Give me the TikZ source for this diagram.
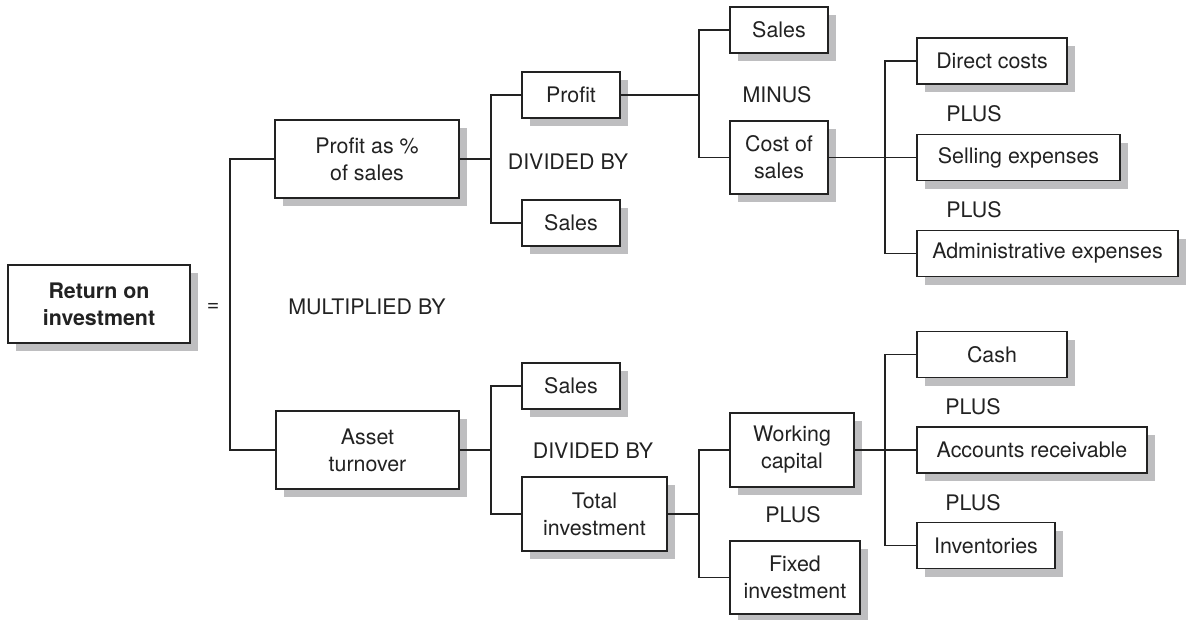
\documentclass[tikz,border=0pt]{standalone}
\usepackage{fontspec}
\setmainfont{TeX Gyre Heros}
\usetikzlibrary{shadows}
\definecolor{ink}{HTML}{222222}
\definecolor{shade}{HTML}{BEBEC0}
\tikzset{
  box/.style={draw=ink, line width=1.4pt, fill=white, text=ink, align=center,
    inner sep=0pt, minimum height=46pt,
    drop shadow={shadow xshift=8pt, shadow yshift=-8pt, fill=shade, opacity=1}},
  op/.style={text=ink, inner sep=0pt},
  link/.style={draw=ink, line width=1.2pt},
}
\begin{document}
\begin{tikzpicture}[x=1pt, y=-1pt, font=\fontsize{21.4}{27}\selectfont]
\useasboundingbox (0,0) rectangle (1186,619);

% bus lines (vertical connector columns)
\coordinate (b0) at (230,0);
\coordinate (b1) at (491,0);
\coordinate (b2) at (699,0);
\coordinate (b3) at (885,0);

% root
\node[box, minimum width=182pt, minimum height=78pt, font=\fontsize{21.4}{27}\selectfont\bfseries] (roi) at (99,304) {Return on\\investment};
\node[op] (eq) at (213,307) {=};
\node[op] (mult) at (367,307) {MULTIPLIED BY};

% upper branch
\node[box, minimum width=184pt, minimum height=78pt] (pct) at (367,159) {Profit as \%\\of sales};
\node[box, minimum width=98pt] (profit) at (571,95) {Profit};
\node[box, minimum width=98pt] (salesA) at (571,223) {Sales};
\node[op] (divA) at (568,162) {DIVIDED BY};
\node[box, minimum width=98pt] (salesB) at (779,30) {Sales};
\node[box, minimum width=98pt, minimum height=73pt] (cos) at (779,157.5) {Cost of\\sales};
\node[op] (minus) at (777,95) {MINUS};
\node[box, minimum width=150pt] (direct) at (992,61) {Direct costs};
\node[box, minimum width=203pt] (selling) at (1018.5,157.5) {Selling expenses};
\node[box, minimum width=261pt] (admin) at (1047.5,253.5) {Administrative expenses};
\node[op] (plusA) at (974,114) {PLUS};
\node[op] (plusB) at (974,210) {PLUS};

% lower branch
\node[box, minimum width=183pt, minimum height=78pt] (asset) at (367.5,450) {Asset\\turnover};
\node[box, minimum width=98pt] (salesC) at (571,386) {Sales};
\node[box, minimum width=145pt, minimum height=74pt] (total) at (594.5,514) {Total\\investment};
\node[op] (divB) at (593,451) {DIVIDED BY};
\node[box, minimum width=124pt, minimum height=74pt] (wc) at (792,450) {Working\\capital};
\node[box, minimum width=130pt, minimum height=73pt] (fixed) at (795,577.5) {Fixed\\investment};
\node[op] (plusC) at (793,515) {PLUS};
\node[box, minimum width=150pt] (cash) at (992,354.5) {Cash};
\node[box, minimum width=230pt] (ar) at (1032,450) {Accounts receivable};
\node[box, minimum width=138pt] (inv) at (986,545.5) {Inventories};
\node[op] (plusD) at (973,407) {PLUS};
\node[op] (plusE) at (973,503) {PLUS};

% connectors
\draw[link] (pct.west) -| (b0 |- asset.west) -- (asset.west);

\draw[link] (profit.west) -| (b1 |- salesA.west) -- (salesA.west);
\draw[link] (pct.east) -- (b1 |- pct.east);
\draw[link] (salesB.west) -| (b2 |- cos.west) -- (cos.west);
\draw[link] (profit.east) -- (b2 |- profit.east);
\draw[link] (direct.west) -| (b3 |- admin.west) -- (admin.west);
\draw[link] (cos.east) -- (selling.west);

\draw[link] (salesC.west) -| (b1 |- total.west) -- (total.west);
\draw[link] (asset.east) -- (b1 |- asset.east);
\draw[link] (wc.west) -| (b2 |- fixed.west) -- (fixed.west);
\draw[link] (total.east) -- (b2 |- total.east);
\draw[link] (cash.west) -| (b3 |- inv.west) -- (inv.west);
\draw[link] (wc.east) -- (ar.west);
\end{tikzpicture}
\end{document}
